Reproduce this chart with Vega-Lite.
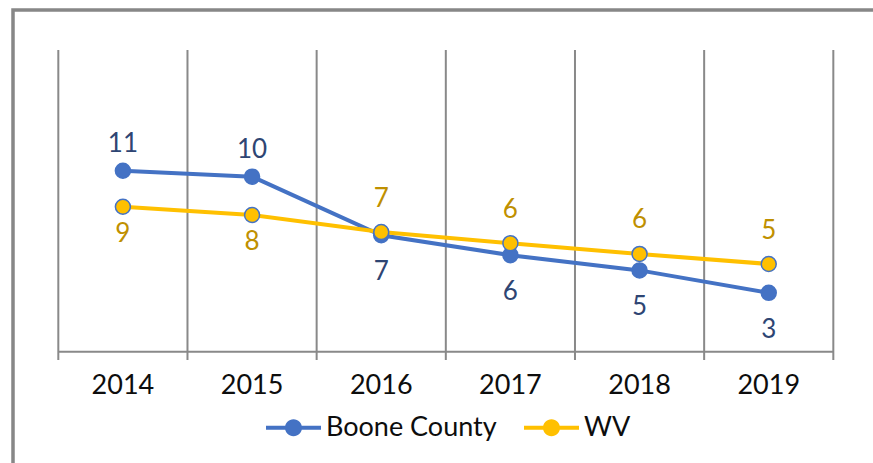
{
  "$schema": "https://vega.github.io/schema/vega-lite/v6.json",
  "width": 870,
  "height": 463,
  "autosize": {"type": "none"},
  "padding": {"left": 13, "top": 10, "right": -10, "bottom": -10},
  "background": "white",
  "config": {"view": {"stroke": "#878787", "strokeWidth": 3.5}, "font": "Lato"},
  "data": {
    "values": [
      {"year": 2014, "series": "Boone County", "value": 10.83},
      {"year": 2015, "series": "Boone County", "value": 10.46},
      {"year": 2016, "series": "Boone County", "value": 6.8},
      {"year": 2017, "series": "Boone County", "value": 5.55},
      {"year": 2018, "series": "Boone County", "value": 4.6},
      {"year": 2019, "series": "Boone County", "value": 3.2},
      {"year": 2014, "series": "WV", "value": 8.58},
      {"year": 2015, "series": "WV", "value": 8.06},
      {"year": 2016, "series": "WV", "value": 7.0},
      {"year": 2017, "series": "WV", "value": 6.3},
      {"year": 2018, "series": "WV", "value": 5.63},
      {"year": 2019, "series": "WV", "value": 5.0}
    ]
  },
  "encoding": {
    "x": {
      "field": "year",
      "type": "ordinal",
      "scale": {"type": "band", "paddingInner": 0, "paddingOuter": 0.3677, "align": 0.477},
      "axis": null
    }
  },
  "layer": [
    {
      "transform": [{"filter": "datum.series === 'Boone County'"}],
      "mark": {"type": "rule", "color": "#898989", "strokeWidth": 2},
      "encoding": {
        "x": {"field": "year", "type": "ordinal", "bandPosition": 0},
        "y": {"datum": 18.375, "type": "quantitative", "scale": {"domain": [-8.0625, 20.875], "nice": false, "zero": false}, "axis": null},
        "y2": {"datum": -1}
      }
    },
    {
      "transform": [{"filter": "datum.series === 'Boone County' && datum.year === 2019"}],
      "mark": {"type": "rule", "color": "#898989", "strokeWidth": 2},
      "encoding": {
        "x": {"field": "year", "type": "ordinal", "bandPosition": 1},
        "y": {"datum": 18.375, "type": "quantitative", "scale": {"domain": [-8.0625, 20.875], "nice": false, "zero": false}, "axis": null},
        "y2": {"datum": -1}
      }
    },
    {
      "transform": [{"filter": "datum.series === 'Boone County'"}],
      "mark": {"type": "rect", "color": "#898989"},
      "encoding": {
        "y": {"datum": -0.42, "type": "quantitative", "scale": {"domain": [-8.0625, 20.875], "nice": false, "zero": false}, "axis": null},
        "y2": {"datum": -0.545}
      }
    },
    {
      "transform": [{"filter": "datum.series === 'Boone County'"}],
      "mark": {"type": "text", "fontSize": 27, "color": "#0d0d0d", "baseline": "middle", "align": "center"},
      "encoding": {
        "y": {"datum": -2.625, "type": "quantitative", "scale": {"domain": [-8.0625, 20.875], "nice": false, "zero": false}, "axis": null},
        "text": {"field": "year", "type": "ordinal"}
      }
    },
    {
      "mark": {"type": "line", "strokeWidth": 4},
      "encoding": {
        "y": {"field": "value", "type": "quantitative", "scale": {"domain": [-8.0625, 20.875], "nice": false, "zero": false}, "axis": null},
        "color": {
          "field": "series",
          "type": "nominal",
          "scale": {"domain": ["Boone County", "WV"], "range": ["#4472C4", "#FFC000"]},
          "legend": {
            "orient": "none",
            "legendX": 253,
            "legendY": 390,
            "direction": "horizontal",
            "title": null,
            "symbolType": "M-1,-0.073L1,-0.073L1,0.073L-1,0.073Z M-0.31,0A0.31,0.31,0,1,1,0.31,0A0.31,0.31,0,1,1,-0.31,0Z",
            "symbolSize": 3025,
            "symbolStrokeWidth": 0,
            "labelFontSize": 27,
            "labelFont": "Lato",
            "labelColor": "#0d0d0d",
            "labelOffset": 5,
            "columnPadding": 27,
            "labelLimit": 500,
            "padding": 0,
            "encode": {
              "symbols": {
                "update": {
                  "fill": {"scale": "color", "field": "value"},
                  "fillOpacity": {"value": 1},
                  "strokeWidth": {"value": 0}
                }
              }
            }
          }
        }
      }
    },
    {
      "mark": {"type": "point", "filled": true, "size": 225, "stroke": "#4472C4", "strokeWidth": 1.5, "opacity": 1},
      "encoding": {
        "y": {"field": "value", "type": "quantitative", "scale": {"domain": [-8.0625, 20.875], "nice": false, "zero": false}, "axis": null},
        "fill": {
          "field": "series",
          "type": "nominal",
          "scale": {"domain": ["Boone County", "WV"], "range": ["#4472C4", "#FFC000"]},
          "legend": null
        }
      }
    },
    {
      "transform": [{"filter": "datum.series === 'Boone County' && datum.year <= 2015"}],
      "mark": {"type": "text", "fontSize": 26, "color": "#2E4573", "baseline": "middle", "dy": -27},
      "encoding": {
        "y": {"field": "value", "type": "quantitative", "scale": {"domain": [-8.0625, 20.875], "nice": false, "zero": false}, "axis": null},
        "text": {"field": "value", "type": "quantitative", "format": ".0f"}
      }
    },
    {
      "transform": [{"filter": "datum.series === 'Boone County' && datum.year >= 2016"}],
      "mark": {"type": "text", "fontSize": 26, "color": "#2E4573", "baseline": "middle", "dy": 37},
      "encoding": {
        "y": {"field": "value", "type": "quantitative", "scale": {"domain": [-8.0625, 20.875], "nice": false, "zero": false}, "axis": null},
        "text": {"field": "value", "type": "quantitative", "format": ".0f"}
      }
    },
    {
      "transform": [{"filter": "datum.series === 'WV' && datum.year <= 2015"}],
      "mark": {"type": "text", "fontSize": 26, "color": "#BF9000", "baseline": "middle", "dy": 27},
      "encoding": {
        "y": {"field": "value", "type": "quantitative", "scale": {"domain": [-8.0625, 20.875], "nice": false, "zero": false}, "axis": null},
        "text": {"field": "value", "type": "quantitative", "format": ".0f"}
      }
    },
    {
      "transform": [{"filter": "datum.series === 'WV' && datum.year >= 2016"}],
      "mark": {"type": "text", "fontSize": 26, "color": "#BF9000", "baseline": "middle", "dy": -33.5},
      "encoding": {
        "y": {"field": "value", "type": "quantitative", "scale": {"domain": [-8.0625, 20.875], "nice": false, "zero": false}, "axis": null},
        "text": {"field": "value", "type": "quantitative", "format": ".0f"}
      }
    }
  ]
}
